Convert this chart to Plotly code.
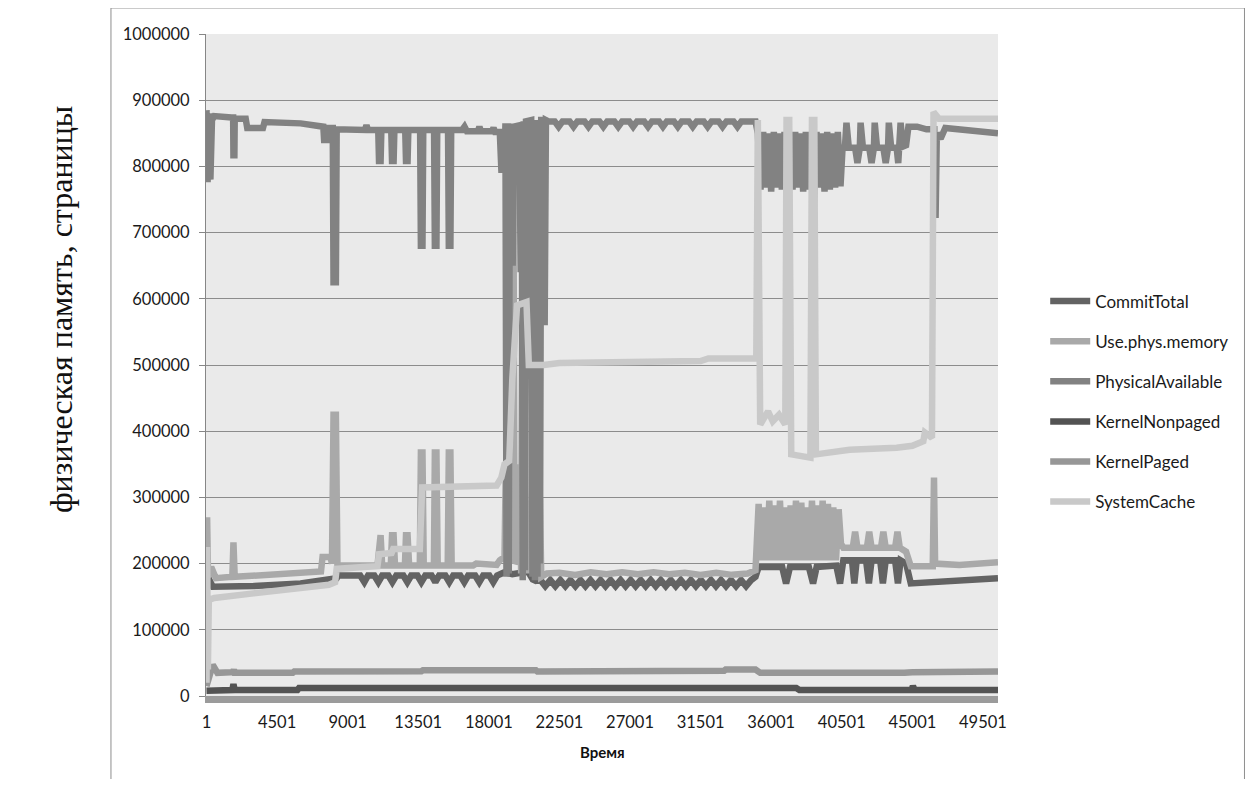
import plotly.graph_objects as go

# ---------------- data ----------------
x_ticks = [1, 4501, 9001, 13501, 18001, 22501, 27001, 31501, 36001, 40501, 45001, 49501]
y_ticks = [0, 100000, 200000, 300000, 400000, 500000, 600000, 700000, 800000, 900000, 1000000]

series_names = ["CommitTotal", "Use.phys.memory", "PhysicalAvailable",
                "KernelNonpaged", "KernelPaged", "SystemCache"]

commit_total = [
    (1, 200000), (80, 180000), (400, 165000), (3000, 166000), (6000, 170000), (7700, 175000),
    (8300, 178000), (8400, 182000),
    (9800, 182000), (10065, 172000), (10300, 182000), (10700, 182000), (10957, 172000), (11200, 182000),
    (11600, 182000), (11849, 172000), (12100, 182000), (12550, 182000), (12805, 172000), (13050, 182000),
    (13450, 182000), (13697, 172000), (13950, 182000), (14350, 182000), (14589, 172000), (14830, 182000),
    (15230, 182000), (15480, 172000), (15730, 182000), (16180, 182000), (16436, 172000), (16680, 182000),
    (17130, 182000), (17391, 172000), (17640, 182000), (18030, 182000), (18283, 172000), (18530, 182000),
    (19000, 187000), (19500, 184000), (20000, 187000), (20500, 188000), (20800, 176000), (21000, 174000),
    (21300, 175000), (21600, 166000), (21920, 175000), (22240, 166000), (22560, 175000), (22880, 166000),
    (23200, 175000), (23520, 166000), (23840, 175000), (24160, 166000), (24480, 175000), (24800, 166000),
    (25120, 175000), (25440, 166000), (25760, 175000), (26080, 166000), (26400, 175000), (26720, 166000),
    (27040, 175000), (27360, 166000), (27680, 175000), (28000, 166000), (28320, 175000), (28640, 166000),
    (28960, 175000), (29280, 166000), (29600, 175000), (29920, 166000), (30240, 175000), (30560, 166000),
    (30880, 175000), (31200, 166000), (31520, 175000), (31840, 166000), (32160, 175000), (32480, 166000),
    (32800, 175000), (33120, 166000), (33440, 175000), (33760, 166000), (34080, 175000), (34400, 166000),
    (34720, 175000), (35000, 180000),
    (35200, 195000), (36700, 195000), (36950, 170000), (37200, 195000), (38400, 195000), (38670, 170000),
    (38900, 195000), (40150, 197000), (40390, 170000), (40600, 205000),
    (40800, 205000), (41150, 205000), (41300, 170000), (41450, 205000), (42050, 205000), (42230, 170000),
    (42400, 205000), (42950, 205000), (43120, 170000), (43300, 205000), (43900, 205000), (44080, 170000),
    (44250, 205000), (44600, 200000), (44900, 170000), (46000, 172000), (48000, 176000), (50460, 178000),
]

use_phys_memory = [
    (1, 30000), (40, 270000), (100, 180000), (300, 195000), (600, 178000), (1650, 180000),
    (1720, 232000), (1800, 180000), (3000, 182000), (6000, 185000), (7300, 188000), (7400, 210000),
    (7900, 210000), (8000, 200000), (8100, 425000), (8250, 425000), (8350, 197000),
    (10900, 197000), (11000, 243000), (11100, 243000), (11200, 197000),
    (11750, 197000), (11830, 243000), (11930, 243000), (12020, 197000),
    (12650, 197000), (12720, 243000), (12820, 243000), (12920, 197000),
    (13600, 197000), (13670, 368000), (13770, 368000), (13850, 197000),
    (14500, 197000), (14560, 368000), (14660, 368000), (14740, 197000),
    (15380, 197000), (15450, 368000), (15550, 368000), (15630, 197000),
    (17000, 197000), (17200, 200000), (18500, 198000), (18700, 205000),
    (19000, 210000), (19080, 340000), (19150, 190000), (19230, 420000), (19300, 200000), (19400, 600000),
    (19480, 230000), (19560, 850000), (19640, 200000), (19900, 210000), (19980, 350000), (20060, 185000),
    (20140, 650000), (20220, 190000), (20300, 420000), (20380, 190000), (20700, 190000), (20780, 330000),
    (20860, 185000), (20940, 850000), (21020, 185000), (21100, 500000), (21180, 185000), (21260, 300000),
    (21340, 180000), (21700, 185000),
    (22500, 186000), (23500, 183000), (24500, 187000), (25500, 184000), (26500, 187000), (27500, 184000),
    (28500, 187000), (29500, 184000), (30500, 186000), (31500, 183000), (32500, 186000), (33500, 183000),
    (34500, 185000), (35000, 190000),
    (35200, 290000), (35370, 205000), (35540, 285000), (35710, 205000), (35880, 295000), (36050, 205000),
    (36220, 288000), (36390, 205000), (36560, 295000), (36730, 205000), (36900, 285000), (37070, 205000),
    (37240, 288000), (37410, 205000), (37580, 295000), (37750, 205000), (37920, 292000), (38090, 205000),
    (38260, 285000), (38430, 205000), (38600, 295000), (38770, 205000), (38940, 288000), (39110, 205000),
    (39280, 295000), (39450, 205000), (39620, 290000), (39790, 205000), (39960, 285000), (40130, 205000),
    (40300, 282000), (40450, 230000), (40600, 224000),
    (41200, 224000), (41350, 248000), (41500, 224000), (42100, 224000), (42250, 248000), (42400, 224000),
    (43000, 224000), (43150, 248000), (43300, 224000), (43900, 224000), (44050, 248000), (44200, 224000),
    (44600, 218000), (44900, 196000), (46300, 196000), (46380, 330000), (46450, 200000), (48000, 198000),
    (50460, 202000),
]

physical_available = [
    (1, 885000), (70, 776000), (150, 880000), (250, 780000), (350, 870000), (500, 876000),
    (1600, 874000), (1700, 874000), (1720, 817000), (1780, 817000), (1800, 872000),
    (2500, 872000), (2600, 858000), (3600, 858000), (3700, 867000), (6000, 865000),
    (7450, 860000), (7500, 840000), (7700, 840000), (7750, 858000),
    (8050, 858000), (8100, 625000), (8250, 625000), (8300, 856000),
    (10100, 855000), (10200, 862000), (10300, 855000),
    (10950, 855000), (11000, 808000), (11100, 808000), (11150, 855000),
    (11780, 855000), (11830, 808000), (11930, 808000), (11980, 855000),
    (12670, 855000), (12720, 808000), (12820, 808000), (12870, 855000),
    (13620, 855000), (13670, 680000), (13770, 680000), (13820, 855000),
    (14510, 855000), (14560, 680000), (14660, 680000), (14710, 855000),
    (15400, 855000), (15450, 680000), (15550, 680000), (15600, 855000),
    (16300, 855000), (16450, 860000), (16600, 853000), (17300, 853000), (17400, 860000), (17500, 853000),
    (18200, 853000), (18300, 858000), (18400, 852000),
    (18700, 852000), (18800, 795000), (19000, 795000), (19060, 865000), (19130, 180000), (19200, 865000),
    (19270, 185000), (19340, 860000), (19460, 860000), (19520, 650000), (19600, 860000),
    (19950, 862000), (20030, 640000), (20100, 865000), (20160, 175000), (20230, 868000), (20300, 190000),
    (20370, 868000), (20700, 870000), (20780, 180000), (20860, 870000),
    (20940, 175000), (21020, 870000), (21100, 180000), (21180, 870000), (21260, 200000), (21340, 870000),
    (21480, 870000), (21560, 560000), (21640, 870000), (21800, 868000),
    (22200, 868000), (22450, 860000), (22700, 868000), (23150, 868000), (23400, 860000), (23650, 868000),
    (24100, 868000), (24350, 860000), (24600, 868000), (25050, 868000), (25300, 860000), (25550, 868000),
    (26000, 868000), (26250, 860000), (26500, 868000), (26950, 868000), (27200, 860000), (27450, 868000),
    (27900, 868000), (28150, 860000), (28400, 868000), (28850, 868000), (29100, 860000), (29350, 868000),
    (29800, 868000), (30050, 860000), (30300, 868000), (30750, 868000), (31000, 860000), (31250, 868000),
    (31700, 868000), (31950, 860000), (32200, 868000), (32650, 868000), (32900, 860000), (33150, 868000),
    (33600, 868000), (33850, 860000), (34100, 868000), (35000, 868000),
    (35150, 850000), (35320, 765000), (35490, 852000), (35660, 768000), (35830, 850000), (36000, 762000),
    (36170, 852000), (36340, 768000), (36510, 850000), (36680, 765000), (36850, 852000), (37020, 745000),
    (37190, 850000), (37360, 765000), (37530, 852000), (37700, 768000), (37870, 850000), (38040, 762000),
    (38210, 852000), (38380, 765000), (38550, 850000), (38720, 745000), (38890, 852000), (39060, 768000),
    (39230, 850000), (39400, 762000), (39570, 852000), (39740, 765000), (39910, 850000), (40080, 768000),
    (40250, 852000), (40420, 770000), (40550, 828000),
    (40700, 828000), (40800, 866000), (40950, 828000), (41350, 828000), (41500, 805000), (41650, 828000),
    (41700, 866000), (41850, 828000), (42250, 828000), (42400, 805000), (42550, 828000), (42600, 866000),
    (42750, 828000), (43150, 828000), (43300, 805000), (43450, 828000), (43500, 866000), (43650, 828000),
    (44000, 828000), (44100, 805000), (44250, 866000), (44400, 830000), (44600, 832000), (44750, 860000),
    (45300, 860000), (45900, 856000), (46400, 856000), (46480, 722000), (46560, 850000), (46800, 842000),
    (47100, 858000), (48000, 856000), (49000, 852000), (50460, 850000),
]

kernel_nonpaged = [
    (1, 8000), (1650, 9000), (1720, 18000), (1800, 9000), (5800, 9000), (5900, 12000),
    (37600, 12000), (37800, 9000), (44950, 9000), (45037, 15000), (45150, 9000), (50460, 9000),
]

kernel_paged = [
    (1, 15000), (150, 30000), (400, 47000), (700, 35000), (1700, 36000), (1750, 40000), (1800, 35000),
    (5500, 35000), (5600, 37000), (13700, 37500), (13800, 39000), (21000, 39000), (21100, 37000),
    (33000, 38000), (33100, 40000), (35000, 40000), (35300, 35000), (44500, 35000), (45000, 36000),
    (50460, 37000),
]

system_cache = [
    (1, 20000), (40, 225000), (90, 40000), (150, 145000), (500, 148000), (3000, 155000), (6000, 162000),
    (7800, 168000), (8200, 172000), (8300, 192000), (10000, 195000), (10900, 196000), (11000, 214000),
    (11800, 216000), (11900, 222000), (13600, 222000), (13750, 315000), (16000, 317000), (18500, 318000),
    (18800, 330000), (19000, 350000), (19300, 355000), (19500, 480000), (19800, 590000), (20400, 595000),
    (20550, 500000), (21500, 500000), (22500, 503000), (28000, 505000), (31500, 506000), (32000, 510000),
    (35050, 510000), (35150, 870000), (35300, 410000), (35800, 430000), (36100, 415000), (36500, 425000),
    (36900, 410000), (36980, 870000), (37150, 870000), (37280, 365000), (38500, 360000), (38600, 870000),
    (38750, 870000), (38850, 365000), (40000, 370000), (41000, 372000), (44000, 375000), (45000, 378000),
    (45700, 385000), (45800, 398000), (46250, 390000), (46350, 882000), (46700, 872000), (50460, 872000),
]

series_data = [commit_total, use_phys_memory, physical_available, kernel_nonpaged, kernel_paged, system_cache]
series_colors = ["#636363", "#A9A9A9", "#828282", "#535353", "#979797", "#C9C9C9"]

# ---------------- figure ----------------
fig = go.Figure()
for name, pts, col in zip(series_names, series_data, series_colors):
    fig.add_trace(go.Scatter(
        x=[p[0] for p in pts], y=[p[1] for p in pts], mode="lines", name=name,
        legendgroup=name, line=dict(color=col, width=6.5), hoverinfo="skip",
    ))

sans = "Lato, 'Open Sans', sans-serif"
tick_font = dict(family=sans, size=16.5, color="#1a1a1a")

fig.update_layout(
    width=1239, height=771,
    margin=dict(l=198, r=249, t=26, b=83),
    paper_bgcolor="white", plot_bgcolor="#EAEAEA",
    showlegend=True,
    legend=dict(x=1.0596, y=0.623, xanchor="left", yanchor="top",
                font=dict(family=sans, size=17, color="#1a1a1a"),
                tracegroupgap=15, itemwidth=40, bgcolor="rgba(0,0,0,0)"),
    xaxis=dict(range=[-30, 50460], tickvals=x_ticks, ticktext=[str(v) for v in x_ticks],
               showgrid=False, zeroline=False, showline=True, linewidth=7, linecolor="#9B9B9B",
               ticks="", tickfont=tick_font, ticklabelstandoff=5),
    yaxis=dict(range=[0, 1000000], tickvals=y_ticks, ticktext=[str(v) for v in y_ticks],
               showgrid=True, gridcolor="#8C8C8C", gridwidth=1, zeroline=False,
               showline=True, linewidth=1, linecolor="#868686",
               ticks="outside", ticklen=6, tickcolor="#868686", tickfont=tick_font,
               ticklabelstandoff=6),
    annotations=[
        dict(text="физическая память, страницы", xref="paper", yref="paper",
             x=-0.183, y=0.583, xanchor="center", yanchor="middle", textangle=-90, showarrow=False,
             font=dict(family="'Liberation Serif', 'Times New Roman', serif", size=32, color="#111111")),
        dict(text="<b>Время</b>", xref="paper", yref="paper", x=0.5, y=-0.0846,
             xanchor="center", yanchor="middle", showarrow=False,
             font=dict(family=sans, size=15, color="#111111")),
    ],
    shapes=[dict(type="rect", xref="paper", yref="paper", x0=-0.12, x1=1.3112, y0=-0.16, y1=1.0393,
                 line=dict(color="#8E8E8E", width=1), fillcolor="rgba(0,0,0,0)", layer="below")],
)

fig.write_html("out.html")
